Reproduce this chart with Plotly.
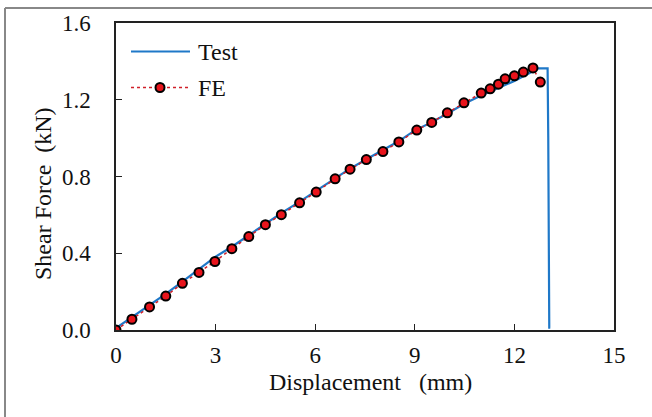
import plotly.graph_objects as go

# Test curve (displacement mm, shear force kN)
test_x = [0, 0.5, 1.0, 1.5, 2.0, 2.5, 3.0, 3.5, 4.0, 4.5, 5.0, 5.5, 6.0, 6.5, 7.0,
          7.5, 8.0, 8.5, 9.0, 9.5, 10.0, 10.5, 11.0, 11.5, 12.0, 12.6, 12.7, 13.0,
          13.02, 13.05, 13.08]
test_y = [0.01, 0.068, 0.128, 0.188, 0.252, 0.318, 0.382, 0.435, 0.495, 0.555, 0.612,
          0.665, 0.722, 0.782, 0.836, 0.886, 0.932, 0.982, 1.040, 1.082, 1.130, 1.180,
          1.222, 1.258, 1.298, 1.352, 1.363, 1.363, 1.0, 0.012, 0.012]

# FE results
fe_x = [0, 0.48, 1.01, 1.50, 2.0, 2.5, 2.98, 3.49, 4.0, 4.5, 4.98, 5.53, 6.03, 6.6,
        7.05, 7.54, 8.04, 8.52, 9.06, 9.51, 9.98, 10.48, 11.0, 11.27, 11.52, 11.72,
        12.0, 12.27, 12.56, 12.78]
fe_y = [0, 0.056, 0.12, 0.177, 0.243, 0.30, 0.357, 0.424, 0.487, 0.549, 0.601, 0.663,
        0.719, 0.788, 0.838, 0.888, 0.93, 0.98, 1.042, 1.082, 1.132, 1.184, 1.235,
        1.257, 1.281, 1.309, 1.325, 1.344, 1.366, 1.292]

x_ticks = [0, 3, 6, 9, 12, 15]
y_ticks = [0.0, 0.4, 0.8, 1.2, 1.6]
series_names = ["Test", "FE"]
x_title = "Displacement \u00a0 (mm)"
y_title = "Shear Force \u00a0(kN)"

FONT = "Liberation Serif"
FS = 24
FS_TICK = 23
BLUE = "#1F78C8"
RED_LINE = "#D0202A"
RED_FILL = "#E8141C"

fig = go.Figure()
fig.add_trace(go.Scatter(
    x=test_x, y=test_y, mode="lines", name=series_names[0],
    line=dict(color=BLUE, width=2.2), showlegend=False,
))
fig.add_trace(go.Scatter(
    x=fe_x, y=fe_y, mode="lines+markers", name=series_names[1],
    line=dict(color=RED_LINE, width=1.5, dash="dot"),
    marker=dict(color=RED_FILL, size=9, line=dict(color="black", width=2)),
    showlegend=False,
))

axis_common = dict(
    showline=True, linecolor="#222", linewidth=1.5, mirror=True,
    ticks="inside", ticklen=6, tickcolor="#222", tickwidth=1.2,
    showgrid=False, zeroline=False,
    tickfont=dict(family=FONT, size=FS_TICK, color="#111"),
)

fig.update_layout(
    width=652, height=417,
    margin=dict(l=116, r=38, t=23, b=87),
    paper_bgcolor="white", plot_bgcolor="white",
    font=dict(family=FONT, color="#111"),
    xaxis=dict(range=[0, 15], tickvals=x_ticks, ticktext=[str(v) for v in x_ticks],
               ticklabelstandoff=4, **axis_common),
    yaxis=dict(range=[0, 1.6], tickvals=y_ticks, ticktext=[f"{v:.1f}" for v in y_ticks],
               ticklabelstandoff=19, **axis_common),
    showlegend=False,
)

# helpers: pixel -> paper coordinates (plot area 116..614 x 23..330)
def px_x(p):
    return (p - 116) / 498.0

def px_y(p):
    return (330 - p) / 307.0

# axis titles
fig.add_annotation(xref="paper", yref="paper", x=px_x(370), y=px_y(382), text=x_title,
                   showarrow=False, xanchor="center", yanchor="middle",
                   font=dict(family=FONT, size=FS, color="#111"))
fig.add_annotation(xref="paper", yref="paper", x=px_x(43), y=px_y(194), text=y_title,
                   showarrow=False, xanchor="center", yanchor="middle", textangle=-90,
                   font=dict(family=FONT, size=FS, color="#111"))

# custom legend
ly1, ly2 = px_y(51.5), px_y(87.5)
fig.add_shape(type="line", xref="paper", yref="paper", x0=px_x(131), x1=px_x(190),
              y0=ly1, y1=ly1, line=dict(color=BLUE, width=2.2))
fig.add_shape(type="line", xref="paper", yref="paper", x0=px_x(131), x1=px_x(190),
              y0=ly2, y1=ly2, line=dict(color=RED_LINE, width=1.5, dash="dot"))
fig.add_shape(type="circle", xref="paper", yref="paper", xsizemode="pixel", ysizemode="pixel",
              xanchor=px_x(160), yanchor=ly2, x0=-4.5, x1=4.5, y0=-4.5, y1=4.5,
              fillcolor=RED_FILL, line=dict(color="black", width=2))
for name, ly in zip(series_names, [ly1, ly2]):
    fig.add_annotation(xref="paper", yref="paper", x=px_x(196), y=ly, text=name,
                       showarrow=False, xanchor="left", yanchor="middle",
                       font=dict(family=FONT, size=FS, color="#111"))

# outer gray frame (top and left edges)
fig.add_shape(type="line", xref="paper", yref="paper", x0=px_x(5), x1=px_x(660),
              y0=px_y(8), y1=px_y(8), line=dict(color="#888", width=2))
fig.add_shape(type="line", xref="paper", yref="paper", x0=px_x(5), x1=px_x(5),
              y0=px_y(430), y1=px_y(8), line=dict(color="#888", width=2))

fig.write_html("out.html")
